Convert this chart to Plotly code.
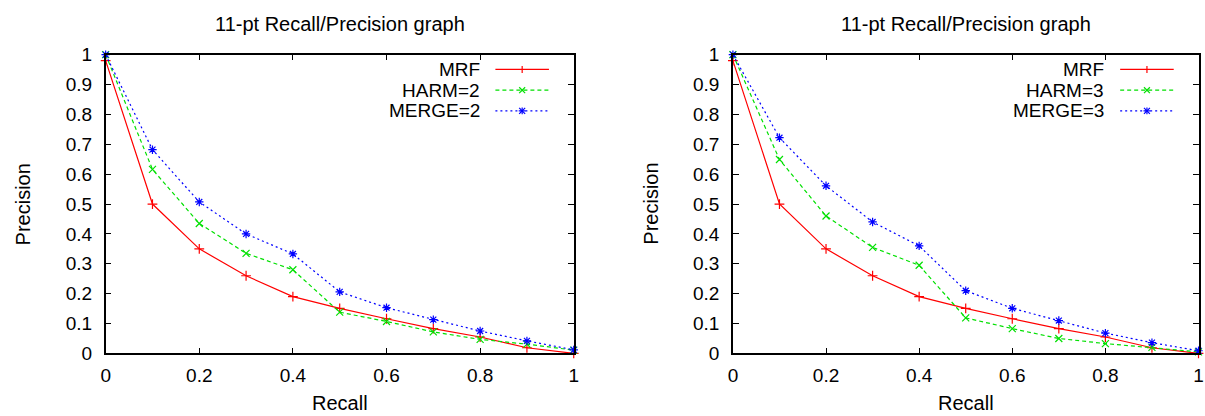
import plotly.graph_objects as go

recall = [0, 0.1, 0.2, 0.3, 0.4, 0.5, 0.6, 0.7, 0.8, 0.9, 1.0]

mrf = [0.98, 0.50, 0.35, 0.26, 0.19, 0.151, 0.116, 0.083, 0.055, 0.019, 0.0]
harm2 = [1.0, 0.616, 0.435, 0.335, 0.28, 0.138, 0.107, 0.072, 0.047, 0.031, 0.011]
merge2 = [1.0, 0.682, 0.507, 0.40, 0.333, 0.206, 0.153, 0.113, 0.075, 0.042, 0.012]
harm3 = [1.0, 0.649, 0.46, 0.355, 0.295, 0.119, 0.083, 0.05, 0.033, 0.02, 0.005]
merge3 = [1.0, 0.722, 0.561, 0.44, 0.36, 0.21, 0.151, 0.11, 0.068, 0.036, 0.009]

names_left = ["MRF", "HARM=2", "MERGE=2"]
names_right = ["MRF", "HARM=3", "MERGE=3"]
colors = ["#ff0000", "#00e000", "#0000ff"]
dashes = ["solid", "4px,3px", "2px,3px"]
symbols = ["cross-thin-open", "x-thin-open", "asterisk-open"]

title_text = "11-pt Recall/Precision graph"
x_title = "Recall"
y_title = "Precision"
x_ticks = [0, 0.2, 0.4, 0.6, 0.8, 1.0]
x_labels = ["0", "0.2", "0.4", "0.6", "0.8", "1"]
y_ticks = [0, 0.1, 0.2, 0.3, 0.4, 0.5, 0.6, 0.7, 0.8, 0.9, 1.0]
y_labels = ["0", "0.1", "0.2", "0.3", "0.4", "0.5", "0.6", "0.7", "0.8", "0.9", "1"]

W, H = 1205, 416
FONT = "Liberation Sans, Arial, Helvetica, sans-serif"
# correction for how the page ends up in the photograph
YS, YB = 0.963, 7.7

fig = go.Figure()

panels = [
    dict(series=[mrf, harm2, merge2], names=names_left, x0=101.5, x1=573.5, xa="x", ya="y"),
    dict(series=[mrf, harm3, merge3], names=names_right, x0=734, x1=1203.5, xa="x2", ya="y2"),
]
ytop, ybot = 53, 356


def px(x):
    return min(1.0, max(0.0, x / W))


def py(y):
    yin = (y - YB) / YS
    return min(1.0, max(0.0, 1 - yin / H))


annotations = []
shapes = []
for p in panels:
    for vals, name, c, d, s in zip(p["series"], p["names"], colors, dashes, symbols):
        fig.add_trace(go.Scatter(
            x=recall, y=vals, name=name, mode="lines+markers",
            line=dict(color=c, width=1.2, dash=d),
            marker=dict(symbol=s, size=7, color=c, line=dict(color=c, width=1.2)),
            xaxis=p["xa"], yaxis=p["ya"], showlegend=False, cliponaxis=False,
        ))
    cx = (p["x0"] + p["x1"]) / 2
    annotations.append(dict(text=title_text, x=px(cx), y=py(22), xref="paper", yref="paper",
                            xanchor="center", yanchor="middle",
                            showarrow=False, font=dict(size=20, color="black", family=FONT)))
    annotations.append(dict(text=x_title, x=px(cx), y=py(406), xref="paper", yref="paper",
                            xanchor="center", yanchor="middle",
                            showarrow=False, font=dict(size=20, color="black", family=FONT)))
    annotations.append(dict(text=y_title, x=px(p["x0"] - 83), y=py((ytop + ybot) / 2),
                            xref="paper", yref="paper", textangle=-90,
                            xanchor="center", yanchor="middle",
                            showarrow=False, font=dict(size=20, color="black", family=FONT)))
    # legend (gnuplot style: right-aligned text, sample on right)
    tx = p["x1"] - 93
    lx0, lx1 = p["x1"] - 79, p["x1"] - 25
    for i, (name, c, d, s) in enumerate(zip(p["names"], colors, dashes, symbols)):
        yy = 68 + 21 * i
        annotations.append(dict(text=name, x=px(tx), y=py(yy), xref="paper", yref="paper",
                                xanchor="right", yanchor="middle", showarrow=False,
                                font=dict(size=19, color="black", family=FONT)))
        shapes.append(dict(type="line", xref="paper", yref="paper",
                           x0=px(lx0), x1=px(lx1), y0=py(yy), y1=py(yy),
                           line=dict(color=c, width=1.2, dash=d)))
        mx = (lx0 + lx1) / 2
        if i == 0:
            shapes.append(dict(type="line", xref="paper", yref="paper", x0=px(mx), x1=px(mx),
                               y0=py(yy - 3.5), y1=py(yy + 3.5), line=dict(color=c, width=1.2)))
        else:
            for dx, dy in [(1, 1), (1, -1)]:
                shapes.append(dict(type="line", xref="paper", yref="paper",
                                   x0=px(mx - 3 * dx), x1=px(mx + 3 * dx),
                                   y0=py(yy - 3 * dy), y1=py(yy + 3 * dy),
                                   line=dict(color=c, width=1.2)))
            if i == 2:
                shapes.append(dict(type="line", xref="paper", yref="paper", x0=px(mx), x1=px(mx),
                                   y0=py(yy - 3.5), y1=py(yy + 3.5), line=dict(color=c, width=1.2)))
                shapes.append(dict(type="line", xref="paper", yref="paper", x0=px(mx - 3.5), x1=px(mx + 3.5),
                                   y0=py(yy), y1=py(yy), line=dict(color=c, width=1.2)))

axis_common = dict(showline=True, linecolor="black", linewidth=1.5, mirror="ticks",
                   ticks="inside", ticklen=6, tickcolor="black", tickwidth=1,
                   showgrid=False, zeroline=False,
                   tickfont=dict(size=19, color="black", family=FONT))

layout = dict(
    width=W, height=H, margin=dict(l=0, r=0, t=0, b=0),
    paper_bgcolor="white", plot_bgcolor="white",
    annotations=annotations, shapes=shapes, showlegend=False,
)
for i, p in enumerate(panels):
    sfx = "" if i == 0 else "2"
    layout["xaxis" + sfx] = dict(axis_common, domain=[px(p["x0"]), px(p["x1"])], range=[0, 1],
                                 tickvals=x_ticks, ticktext=x_labels, ticklabelstandoff=4,
                                 anchor="y" + sfx)
    layout["yaxis" + sfx] = dict(axis_common, domain=[py(ybot), py(ytop)], range=[0, 1],
                                 tickvals=y_ticks, ticktext=y_labels, ticklabelstandoff=8,
                                 anchor="x" + sfx)
fig.update_layout(**layout)

fig.write_html(
    "out.html",
    config={"displayModeBar": False},
    post_script="document.body.style.margin='0';document.body.style.overflow='hidden';",
)
